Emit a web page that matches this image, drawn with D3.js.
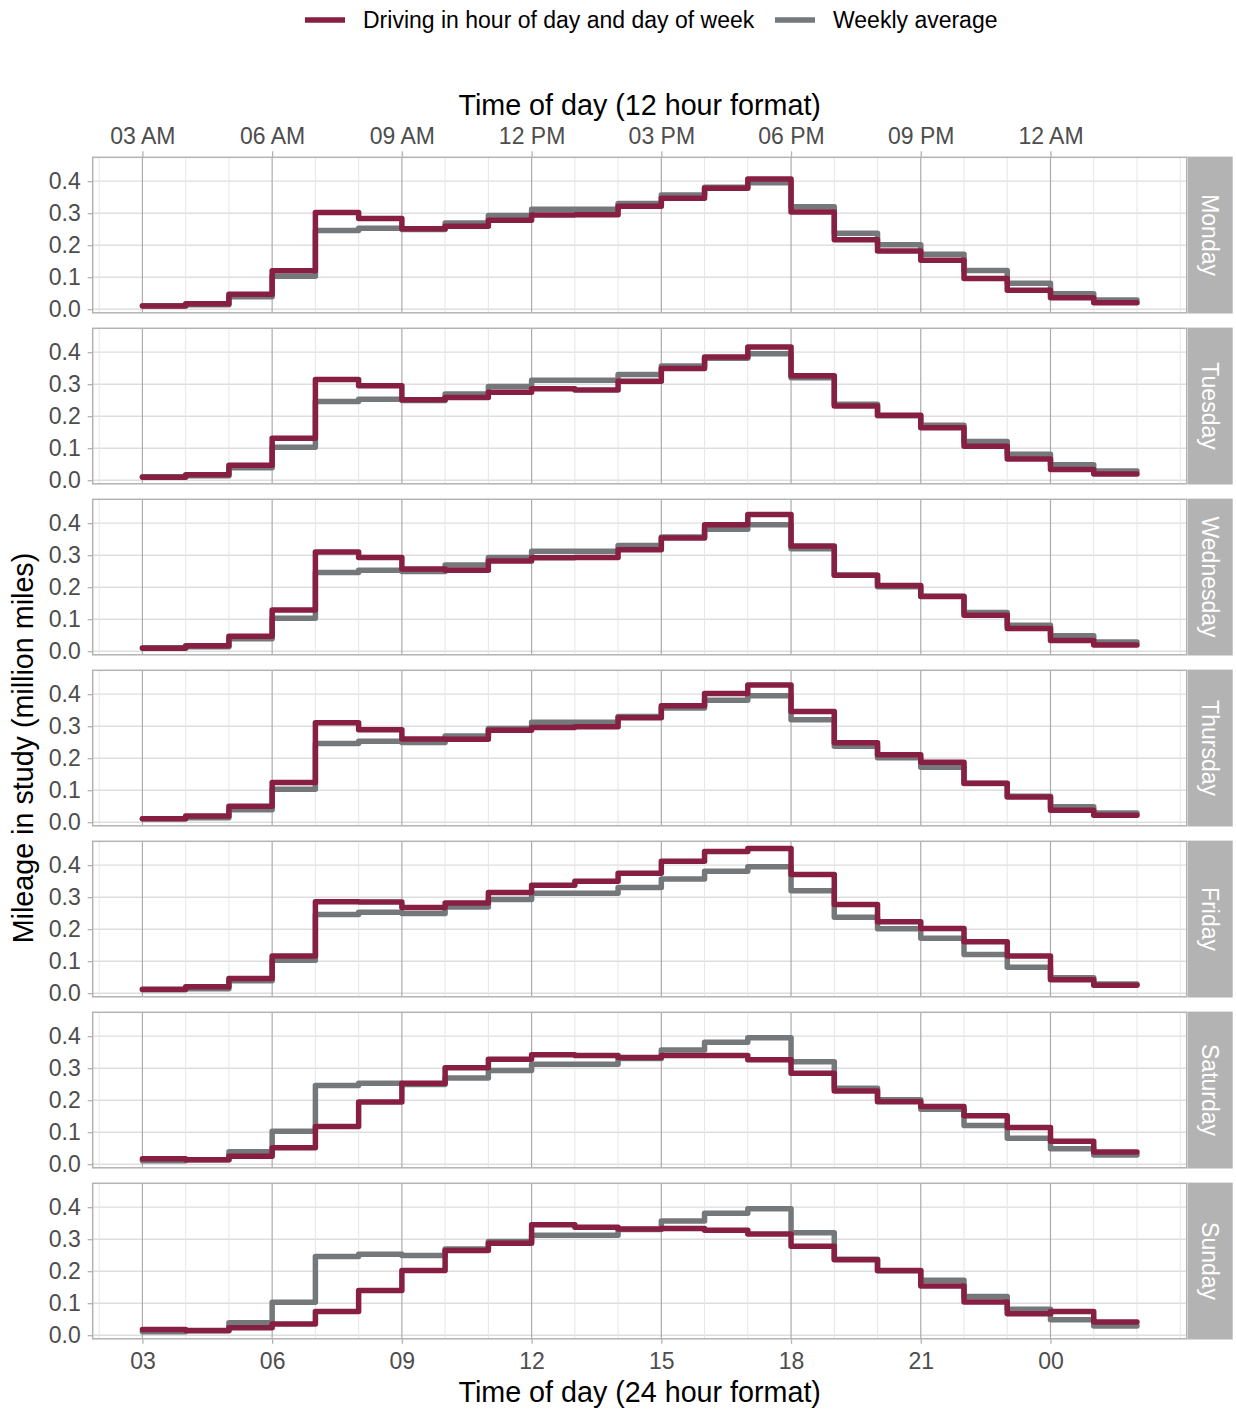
<!DOCTYPE html>
<html>
<head>
<meta charset="utf-8">
<script src="https://cdn.jsdelivr.net/npm/d3@7"></script>
<style>
  body { margin: 0; background: #fff; }
  text { font-family: "Liberation Sans", Arial, sans-serif; }
</style>
</head>
<body>
<script>
// ! Data: starting hour of each one-hour step (3 = 03:00 ... 25 = 01:00 next day)
const hours = [3,4,5,6,7,8,9,10,11,12,13,14,15,16,17,18,19,20,21,22,23,24,25];
const days = ["Monday","Tuesday","Wednesday","Thursday","Friday","Saturday","Sunday"];

const monday    = [0.010,0.017,0.047,0.120,0.302,0.283,0.251,0.259,0.278,0.294,0.295,0.322,0.347,0.378,0.407,0.304,0.217,0.182,0.153,0.096,0.059,0.036,0.020];
const tuesday   = [0.009,0.017,0.047,0.131,0.315,0.295,0.251,0.258,0.275,0.286,0.282,0.309,0.349,0.385,0.416,0.326,0.232,0.203,0.164,0.106,0.066,0.033,0.019];
const wednesday = [0.009,0.017,0.047,0.129,0.310,0.293,0.257,0.253,0.282,0.292,0.293,0.317,0.354,0.395,0.427,0.329,0.237,0.205,0.171,0.112,0.071,0.033,0.019];
const thursday  = [0.011,0.019,0.050,0.124,0.311,0.289,0.260,0.259,0.287,0.296,0.298,0.326,0.364,0.402,0.429,0.346,0.248,0.211,0.187,0.122,0.079,0.037,0.022];
const friday    = [0.012,0.020,0.046,0.116,0.286,0.285,0.268,0.282,0.315,0.337,0.350,0.375,0.412,0.443,0.452,0.371,0.277,0.223,0.202,0.161,0.116,0.042,0.025];
const saturday  = [0.017,0.014,0.025,0.051,0.118,0.194,0.253,0.301,0.328,0.342,0.340,0.333,0.340,0.340,0.326,0.284,0.229,0.195,0.180,0.151,0.115,0.072,0.038];
const sunday    = [0.018,0.015,0.023,0.035,0.074,0.140,0.202,0.265,0.287,0.345,0.337,0.332,0.333,0.328,0.316,0.278,0.236,0.202,0.154,0.104,0.067,0.074,0.041];
const weeklyAvg = [0.011,0.014,0.039,0.103,0.246,0.253,0.249,0.269,0.293,0.312,0.312,0.330,0.357,0.381,0.395,0.320,0.237,0.201,0.172,0.121,0.081,0.048,0.029];

const dayValues = [monday, tuesday, wednesday, thursday, friday, saturday, sunday];

const breaks = [3,6,9,12,15,18,21,24];
const labels24 = ["03","06","09","12","15","18","21","00"];
const labels12 = ["03 AM","06 AM","09 AM","12 PM","03 PM","06 PM","09 PM","12 AM"];
const yTicks = [0,0.1,0.2,0.3,0.4];

// ! Layout
const width = 1236;
const height = 1410;
const panelLeft = 92.7, panelRight = 1186.7;
const panelTop0 = 157.3, panelStep = 171, panelH = 155.5;
const stripW = 45;
const maroon = "#861F41";
const grey = "#75787B";

const svg = d3.select("body").append("svg")
  .attr("width", width).attr("height", height);

const x = d3.scaleLinear().domain([1.85, 27.15]).range([panelLeft, panelRight]);

// step points: each value holds from its hour to the next hour
const toPoints = (vals) => {
  const pts = hours.map((h, i) => [h, vals[i]]);
  pts.push([hours[hours.length - 1] + 1, vals[vals.length - 1]]);
  return pts;
};

const minorHours = d3.range(2, 28);

days.forEach((day, i) => {
  const top = panelTop0 + i * panelStep;
  const y = d3.scaleLinear().domain([-0.0113, 0.4746]).range([top + panelH, top]);
  const g = svg.append("g");

  // grid
  g.selectAll(".hgrid").data(yTicks).enter().append("line")
    .attr("x1", panelLeft).attr("x2", panelRight)
    .attr("y1", d => y(d)).attr("y2", d => y(d))
    .attr("stroke", "#DEDEDE").attr("stroke-width", 1.4);
  g.selectAll(".vminor").data(minorHours.filter(h => !breaks.includes(h))).enter().append("line")
    .attr("x1", d => x(d)).attr("x2", d => x(d))
    .attr("y1", top).attr("y2", top + panelH)
    .attr("stroke", "#E6E6E6").attr("stroke-width", 1);
  g.selectAll(".vmajor").data(breaks).enter().append("line")
    .attr("x1", d => x(d)).attr("x2", d => x(d))
    .attr("y1", top).attr("y2", top + panelH)
    .attr("stroke", "#ABABAB").attr("stroke-width", 1.2);

  const line = d3.line().x(d => x(d[0])).y(d => y(d[1])).curve(d3.curveStepAfter);

  g.append("path").attr("d", line(toPoints(weeklyAvg)))
    .attr("fill", "none").attr("stroke", grey).attr("stroke-width", 5.5)
    .attr("stroke-linejoin", "round").attr("stroke-linecap", "round");
  g.append("path").attr("d", line(toPoints(dayValues[i])))
    .attr("fill", "none").attr("stroke", maroon).attr("stroke-width", 5.5)
    .attr("stroke-linejoin", "round").attr("stroke-linecap", "round");

  // panel border
  g.append("rect")
    .attr("x", panelLeft).attr("y", top)
    .attr("width", panelRight - panelLeft).attr("height", panelH)
    .attr("fill", "none").attr("stroke", "#B3B3B3").attr("stroke-width", 1.5);

  // strip
  g.append("rect")
    .attr("x", panelRight + 1).attr("y", top - 0.7)
    .attr("width", stripW).attr("height", panelH + 1.4)
    .attr("fill", "#B3B3B3");
  g.append("text")
    .attr("transform", `translate(${panelRight + 1 + stripW / 2}, ${top + panelH / 2}) rotate(90)`)
    .attr("text-anchor", "middle").attr("dominant-baseline", "central")
    .attr("fill", "#fff").style("font-size", "23px")
    .text(day);

  // y axis
  const yAxisG = g.append("g")
    .attr("transform", `translate(${panelLeft}, 0)`)
    .call(d3.axisLeft(y).tickValues(yTicks).tickFormat(d3.format(".1f")).tickSize(5).tickPadding(7));
  yAxisG.select(".domain").remove();
  yAxisG.selectAll(".tick line").attr("stroke", "#B3B3B3").attr("stroke-width", 1.3);
  yAxisG.selectAll(".tick text").attr("fill", "#4D4D4D")
    .style("font-size", "23px").style("font-family", "Liberation Sans, Arial, sans-serif");
});

// ! Top axis (12 hour format)
const topAxisG = svg.append("g")
  .attr("transform", `translate(0, ${panelTop0})`)
  .call(d3.axisTop(x).tickValues(breaks).tickFormat((d, i) => labels12[i]).tickSize(6).tickPadding(7));
topAxisG.select(".domain").remove();
topAxisG.selectAll(".tick line").attr("stroke", "#B3B3B3").attr("stroke-width", 1.3);
topAxisG.selectAll(".tick text").attr("fill", "#4D4D4D")
  .style("font-size", "23px").style("font-family", "Liberation Sans, Arial, sans-serif");

// ! Bottom axis (24 hour format)
const bottomY = panelTop0 + 6 * panelStep + panelH;
const bottomAxisG = svg.append("g")
  .attr("transform", `translate(0, ${bottomY})`)
  .call(d3.axisBottom(x).tickValues(breaks).tickFormat((d, i) => labels24[i]).tickSize(5).tickPadding(9));
bottomAxisG.select(".domain").remove();
bottomAxisG.selectAll(".tick line").attr("stroke", "#B3B3B3").attr("stroke-width", 1.3);
bottomAxisG.selectAll(".tick text").attr("fill", "#4D4D4D")
  .style("font-size", "23px").style("font-family", "Liberation Sans, Arial, sans-serif");

// ! Axis titles
const midX = (panelLeft + panelRight) / 2;
svg.append("text").attr("x", midX).attr("y", 115)
  .attr("text-anchor", "middle").style("font-size", "28.7px")
  .text("Time of day (12 hour format)");
svg.append("text").attr("x", midX).attr("y", 1402)
  .attr("text-anchor", "middle").style("font-size", "28.7px")
  .text("Time of day (24 hour format)");
svg.append("text")
  .attr("transform", `translate(33, ${(panelTop0 + bottomY) / 2}) rotate(-90)`)
  .attr("text-anchor", "middle").style("font-size", "28.7px")
  .text("Mileage in study (million miles)");

// ! Legend
const legendItems = [
  { label: "Driving in hour of day and day of week", color: maroon, x: 305 },
  { label: "Weekly average", color: grey, x: 775 }
];
const legend = svg.append("g");
legendItems.forEach(item => {
  legend.append("line")
    .attr("x1", item.x).attr("x2", item.x + 40)
    .attr("y1", 20).attr("y2", 20)
    .attr("stroke", item.color).attr("stroke-width", 5.5);
  legend.append("text")
    .attr("x", item.x + 58).attr("y", 28)
    .style("font-size", "23px")
    .text(item.label);
});
</script>
</body>
</html>
